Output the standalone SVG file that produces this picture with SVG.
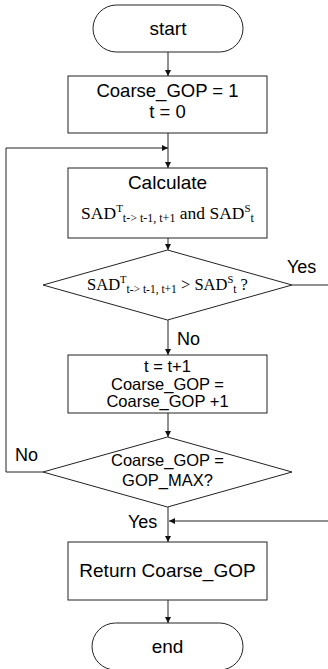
<svg xmlns="http://www.w3.org/2000/svg" width="328" height="669" viewBox="0 0 328 669">
<style>
.n{fill:#fff;stroke:#222;stroke-width:1}
.t{font-family:"Liberation Sans",Arial,sans-serif;fill:#000;text-anchor:middle}
.s{font-family:"Liberation Serif","Times New Roman",serif;fill:#000;text-anchor:middle}
.l{font-family:"Liberation Sans",Arial,sans-serif;fill:#000;font-size:18px}
.c{fill:none;stroke:#222;stroke-width:1}
</style>
<defs>
<marker id="a" viewBox="0 0 10 10" refX="10" refY="5" markerWidth="6" markerHeight="6" markerUnits="userSpaceOnUse" orient="auto">
<path d="M0,0 L10,5 L0,10 z" fill="#111"/>
</marker>
</defs>
<rect width="328" height="669" fill="#fff"/>
<g id="connectors">
<path class="c" d="M168,52 V76" marker-end="url(#a)"/>
<path class="c" d="M168,133 V168" marker-end="url(#a)"/>
<path class="c" d="M43,472 H6 V148 H168" marker-end="url(#a)"/>
<path class="c" d="M168,238 V250" marker-end="url(#a)"/>
<path class="c" d="M292,285 H328"/>
<path class="c" d="M168,320 V355" marker-end="url(#a)"/>
<path class="c" d="M168,413 V437" marker-end="url(#a)"/>
<path class="c" d="M168,507 V542" marker-end="url(#a)"/>
<path class="c" d="M328,521 H169" marker-end="url(#a)"/>
<path class="c" d="M168,600 V623" marker-end="url(#a)"/>
<text class="l" x="287" y="273">Yes</text>
<text class="l" x="177" y="345">No</text>
<text class="l" x="15" y="461">No</text>
<text class="l" x="128" y="528">Yes</text>
</g>
<g id="start">
<rect class="n" x="93" y="5" width="150" height="47" rx="23.5" ry="23.5"/>
<text class="t" x="168" y="35" font-size="19">start</text>
</g>
<g id="init">
<rect class="n" x="68" y="76" width="199" height="57"/>
<text class="t" x="167.5" y="97" font-size="18.5">Coarse_GOP = 1</text>
<text class="t" x="167.5" y="118" font-size="18.5">t = 0</text>
</g>
<g id="calculate">
<rect class="n" x="68" y="168" width="199" height="70"/>
<text class="t" x="167.5" y="189" font-size="19">Calculate</text>
<text class="s" x="167.5" y="219" font-size="17.5">SAD<tspan dy="-7" font-size="11">T</tspan><tspan dy="10" font-size="12">t-&gt; t-1, t+1</tspan><tspan dy="-3"> and SAD</tspan><tspan dy="-7" font-size="11">S</tspan><tspan dy="10" font-size="12">t</tspan></text>
</g>
<g id="decision1">
<polygon class="n" points="167.5,250 292,285 167.5,320 43,285"/>
<text class="s" x="167.5" y="290" font-size="16.5">SAD<tspan dy="-7" font-size="10.5">T</tspan><tspan dy="10" font-size="11.5">t-&gt; t-1, t+1</tspan><tspan dy="-3"> &gt; SAD</tspan><tspan dy="-7" font-size="10.5">S</tspan><tspan dy="10" font-size="11.5">t</tspan><tspan dy="-3"> ?</tspan></text>
</g>
<g id="increment">
<rect class="n" x="68" y="355" width="199" height="58"/>
<text class="t" x="167.5" y="372" font-size="16.5">t = t+1</text>
<text class="t" x="167.5" y="390" font-size="16.5">Coarse_GOP =</text>
<text class="t" x="167.5" y="407" font-size="16.5">Coarse_GOP +1</text>
</g>
<g id="decision2">
<polygon class="n" points="167.5,437 292,472 167.5,507 43,472"/>
<text class="t" x="167.5" y="466" font-size="16.5">Coarse_GOP =</text>
<text class="t" x="167.5" y="486" font-size="16.5">GOP_MAX?</text>
</g>
<g id="return">
<rect class="n" x="68" y="542" width="199" height="58"/>
<text class="t" x="167.5" y="577" font-size="19">Return Coarse_GOP</text>
</g>
<g id="end">
<rect class="n" x="92" y="623" width="151" height="47" rx="23.5" ry="23.5"/>
<text class="t" x="167.5" y="653" font-size="19">end</text>
</g>
</svg>
